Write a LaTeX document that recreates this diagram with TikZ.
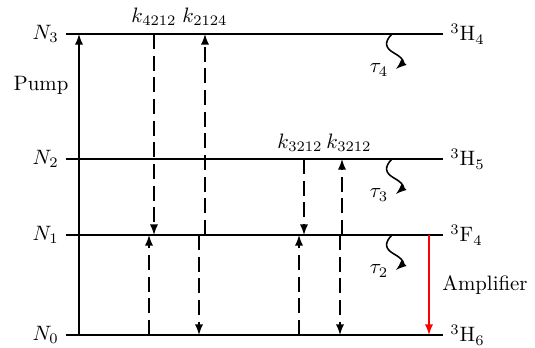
\documentclass[tikz,border=0pt]{standalone}
\usetikzlibrary{arrows}
\newlength{\du}
\setlength{\du}{0.48pt}
\tikzset{
  level/.style={line width=1pt},
  trans/.style={line width=0.75pt,-latex},
  nonrad/.style={trans,dash pattern=on 7.2pt off 3.2pt},
  decay/.style={line width=0.75pt,-latex},
}
\begin{document}
\begin{tikzpicture}
\pgftransformxscale{1.000000}
\pgftransformyscale{-1.000000}
\useasboundingbox (0\du,0\du) rectangle (535\du,347\du);
% energy levels
\coordinate (l3) at (66\du,34\du);
\coordinate (r3) at (443\du,34\du);
\coordinate (l2) at (66\du,159\du);
\coordinate (r2) at (443\du,159\du);
\coordinate (l1) at (66\du,235\du);
\coordinate (r1) at (443\du,235\du);
\coordinate (l0) at (66\du,335\du);
\coordinate (r0) at (443\du,335\du);
\draw[level] (l3)--(r3);
\draw[level] (l2)--(r2);
\draw[level] (l1)--(r1);
\draw[level] (l0)--(r0);
\node[anchor=east] (n3) at (l3) {$N_3$};
\node[anchor=east] (n2) at (l2) {$N_2$};
\node[anchor=east] (n1) at (l1) {$N_1$};
\node[anchor=east] (n0) at (l0) {$N_0$};
\node[anchor=west] (h4) at (r3) {$^3\mathrm{H}_4$};
\node[anchor=west] (h5) at (r2) {$^3\mathrm{H}_5$};
\node[anchor=west] (f4) at (r1) {$^3\mathrm{F}_4$};
\node[anchor=west] (h6) at (r0) {$^3\mathrm{H}_6$};
% columns
\coordinate (cp) at (79\du,0\du);
\coordinate (ca) at (154\du,0\du);
\coordinate (cb) at (205\du,0\du);
\coordinate (cc) at (149\du,0\du);
\coordinate (cd) at (199\du,0\du);
\coordinate (ce) at (304\du,0\du);
\coordinate (cf) at (342\du,0\du);
\coordinate (cg) at (299\du,0\du);
\coordinate (ch) at (340\du,0\du);
\coordinate (cr) at (429\du,0\du);
% pump
\draw[trans] (cp |- l0)--(cp |- l3);
\node (pump) at (41\du,85\du){Pump};
% cross relaxation
\draw[nonrad] (ca |- l3)--(ca |- l1);
\draw[nonrad] (cb |- l1)--(cb |- l3);
\draw[nonrad] (cc |- l0)--(cc |- l1);
\draw[nonrad] (cd |- l1)--(cd |- l0);
\draw[nonrad] (ce |- l2)--(ce |- l1);
\draw[nonrad] (cf |- l1)--(cf |- l2);
\draw[nonrad] (cg |- l0)--(cg |- l1);
\draw[nonrad] (ch |- l1)--(ch |- l0);
\node (k4212) at (154\du,17\du){$k_{4212}$};
\node (k2124) at (205\du,17\du){$k_{2124}$};
\node (k3212a) at (300\du,143\du){$k_{3212}$};
\node (k3212b) at (349\du,143\du){$k_{3212}$};
% lifetimes
\foreach \lv/\ty/\tn in {l3/34/4,l2/159/3,l1/235/2}{
  \draw[decay] (392\du,\ty\du) .. controls (384\du,\ty\du+8\du) and (385\du,\ty\du+14\du) .. (394\du,\ty\du+19\du)
    .. controls (403\du,\ty\du+24\du) and (404\du,\ty\du+28\du) .. (396\du,\ty\du+35\du);
  \node (tau\tn) at (379\du,\ty\du+36\du){$\tau_\tn$};
}
% amplifier
\draw[trans,red] (cr |- l1)--(cr |- l0);
\node (amp) at (485\du,285\du){Amplifier};
\end{tikzpicture}
\end{document}
